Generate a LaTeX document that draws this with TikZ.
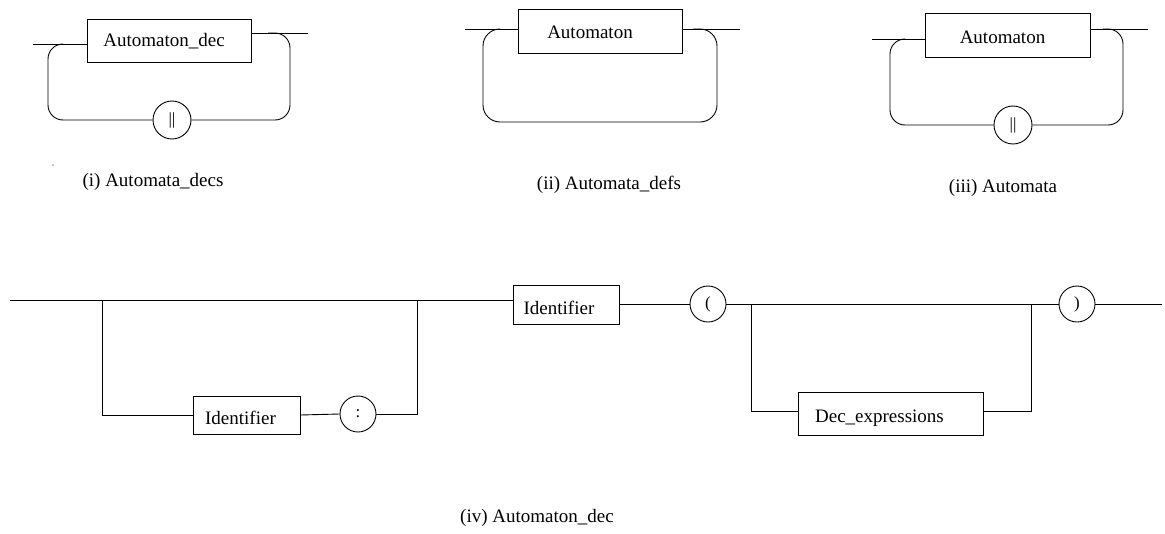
\documentclass[tikz,border=0pt]{standalone}
\usepackage{fontspec}
\setmainfont{Liberation Serif}
\begin{document}
\begin{tikzpicture}[x=1pt,y=-1pt,
  line/.style={line width=0.9pt},
  box/.style={draw, line width=0.9pt, inner sep=0pt},
  tok/.style={draw, circle, line width=0.9pt, inner sep=0pt, minimum size=36pt, font=\fontsize{17}{19}\selectfont},
  lbl/.style={font=\fontsize{19}{22}\selectfont, inner sep=0pt},
  captxt/.style={font=\fontsize{19}{22}\selectfont, inner sep=0pt},
  rc/.style={line width=0.9pt, rounded corners=15pt}]
\useasboundingbox (0,0) rectangle (1165,533);

% ---------- (i) ----------
\node[box, minimum width=164pt, minimum height=43pt,
  label={[lbl,xshift=-5pt,yshift=-1pt]center:Automaton\_dec}] (d1) at (169,40.5) {};
\node[tok, minimum size=38pt] (c1) at (172,120) {||};
\coordinate (iin) at (33,44);
\coordinate (iout) at (308,33);
\coordinate (ia) at (62,44);
\coordinate (ib) at (48,44);
\coordinate (ic) at (48,120);
\coordinate (id) at (290,120);
\coordinate (ie) at (290,33);
\coordinate (if) at (268,33);
\draw[line] (iin) -- (d1.west |- iin);
\draw[line] (d1.east |- iout) -- (iout);
\draw[rc] (ia) -- (ib) -- (ic) -- (c1.west);
\draw[rc] (c1.east) -- (id) -- (ie) -- (if);
\fill (53,165) circle (0.6pt);

% ---------- (ii) ----------
\node[box, minimum width=164pt, minimum height=44pt,
  label={[lbl,xshift=-10pt,yshift=-1pt]center:Automaton}] (d2) at (600,31) {};
\coordinate (iiin) at (465,29);
\coordinate (iiout) at (740,29);
\coordinate (iia) at (500,29);
\coordinate (iib) at (483,29);
\coordinate (iic) at (483,122);
\coordinate (iid) at (717,122);
\coordinate (iie) at (717,29);
\coordinate (iif) at (693,29);
\draw[line] (iiin) -- (d2.west |- iiin);
\draw[line] (d2.east |- iiout) -- (iiout);
\draw[rc, rounded corners=17pt] (iia) -- (iib) -- (iic) -- (iid) -- (iie) -- (iif);

% ---------- (iii) ----------
\node[box, minimum width=165pt, minimum height=44pt,
  label={[lbl,xshift=-5pt,yshift=-2pt]center:Automaton}] (d3) at (1007.5,35) {};
\node[tok, minimum size=38pt] (c3) at (1013,125) {||};
\coordinate (iiiin) at (872,39);
\coordinate (iiiout) at (1148,29);
\coordinate (iiia) at (904,39);
\coordinate (iiib) at (890,39);
\coordinate (iiic) at (890,125);
\coordinate (iiid) at (1123,125);
\coordinate (iiie) at (1123,29);
\coordinate (iiif) at (1103,29);
\draw[line] (iiiin) -- (d3.west |- iiiin);
\draw[line] (d3.east |- iiiout) -- (iiiout);
\draw[rc] (iiia) -- (iiib) -- (iiic) -- (c3.west);
\draw[rc] (c3.east) -- (iiid) -- (iiie) -- (iiif);

% ---------- (iv) ----------
\node[box, minimum width=107pt, minimum height=38pt,
  label={[lbl,xshift=-6pt,yshift=-3pt]center:Identifier}] (id1) at (246.5,415) {};
\node[tok] (col) at (358,414) {:};
\node[box, minimum width=106pt, minimum height=39pt,
  label={[lbl,xshift=-7pt,yshift=-3pt]center:Identifier}] (id2) at (566,304.5) {};
\node[tok] (lp) at (708,304) {(};
\node[box, minimum width=185pt, minimum height=43pt,
  label={[lbl,xshift=-11pt,yshift=-5pt]center:Dec\_expressions}] (dx) at (890.5,413.5) {};
\node[tok] (rp) at (1077,304) {)};
\coordinate (ivin) at (10,300);
\coordinate (b1top) at (102,300);
\coordinate (b1bot) at (102,415);
\coordinate (b2bot) at (417,414);
\coordinate (b2top) at (417,300);
\coordinate (b3top) at (751,304);
\coordinate (b3bot) at (751,411);
\coordinate (b4bot) at (1031,411);
\coordinate (b4top) at (1031,304);
\coordinate (ivout) at (1162,304);
\draw[line] (ivin) -- (id2.west |- ivin);
\draw[line] (b1top) -- (b1bot) -- (id1.west);
\draw[line] (id1.east) -- (col.west);
\draw[line] (col.east) -- (b2bot) -- (b2top);
\draw[line] (id2.east |- lp) -- (lp.west);
\draw[line] (lp.east) -- (rp.west);
\draw[line] (b3top) -- (b3bot) -- (dx.west |- b3bot);
\draw[line] (dx.east |- b4bot) -- (b4bot) -- (b4top);
\draw[line] (rp.east) -- (ivout);

% ---------- captions ----------
\node[captxt] (cap1) at (153,182) {(i) Automata\_decs};
\node[captxt] (cap2) at (609,185) {(ii) Automata\_defs};
\node[captxt] (cap3) at (1003,188) {(iii) Automata};
\node[captxt] (cap4) at (537,518) {(iv) Automaton\_dec};
\end{tikzpicture}
\end{document}
